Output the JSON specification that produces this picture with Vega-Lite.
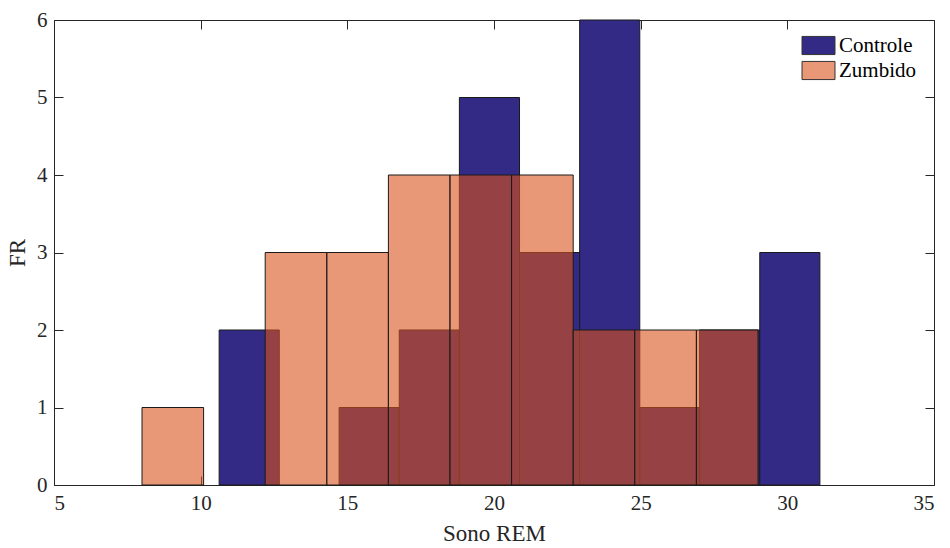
{
  "$schema": "https://vega.github.io/schema/vega-lite/v6.json",
  "width": 880,
  "height": 465,
  "autosize": {"type": "none"},
  "padding": {"left": 54, "top": 20, "right": 16, "bottom": 63},
  "background": "white",
  "config": {
    "view": {"stroke": "#262626", "strokeWidth": 1},
    "font": "Liberation Serif",
    "text": {"font": "Liberation Serif"},
    "legend": {"labelFont": "Liberation Serif", "titleFont": "Liberation Serif"},
    "axis": {
      "grid": false,
      "domain": false,
      "tickColor": "#262626",
      "tickWidth": 1,
      "labelColor": "#262626",
      "titleColor": "#262626",
      "labelFont": "Liberation Serif",
      "titleFont": "Liberation Serif",
      "labelFontSize": 21,
      "titleFontSize": 23,
      "titleFontWeight": "normal"
    }
  },
  "data": {
    "values": [
      {"group": "Controle", "start": 10.63, "end": 12.68, "count": 2},
      {"group": "Controle", "start": 14.72, "end": 16.77, "count": 1},
      {"group": "Controle", "start": 16.77, "end": 18.82, "count": 2},
      {"group": "Controle", "start": 18.82, "end": 20.87, "count": 5},
      {"group": "Controle", "start": 20.87, "end": 22.92, "count": 3},
      {"group": "Controle", "start": 22.92, "end": 24.97, "count": 6},
      {"group": "Controle", "start": 24.97, "end": 27.01, "count": 1},
      {"group": "Controle", "start": 27.01, "end": 29.06, "count": 2},
      {"group": "Controle", "start": 29.06, "end": 31.11, "count": 3},
      {"group": "Zumbido", "start": 8.0, "end": 10.1, "count": 1},
      {"group": "Zumbido", "start": 12.2, "end": 14.3, "count": 3},
      {"group": "Zumbido", "start": 14.3, "end": 16.4, "count": 3},
      {"group": "Zumbido", "start": 16.4, "end": 18.5, "count": 4},
      {"group": "Zumbido", "start": 18.5, "end": 20.6, "count": 4},
      {"group": "Zumbido", "start": 20.6, "end": 22.7, "count": 4},
      {"group": "Zumbido", "start": 22.7, "end": 24.8, "count": 2},
      {"group": "Zumbido", "start": 24.8, "end": 26.9, "count": 2},
      {"group": "Zumbido", "start": 26.9, "end": 29.0, "count": 2}
    ]
  },
  "resolve": {"axis": {"x": "independent", "y": "independent"}},
  "layer": [
    {
      "mark": {"type": "bar", "stroke": "#1a1a1a", "strokeWidth": 1},
      "encoding": {
        "x": {
          "field": "start", "type": "quantitative",
          "scale": {"domain": [5, 35], "nice": false, "zero": false},
          "axis": {"orient": "bottom", "values": [5, 10, 15, 20, 25, 30, 35], "tickSize": -9, "labelPadding": 16, "title": "Sono REM", "titlePadding": 9}
        },
        "x2": {"field": "end"},
        "y": {
          "field": "count", "type": "quantitative",
          "scale": {"domain": [0, 6], "nice": false},
          "axis": {"orient": "left", "values": [0, 1, 2, 3, 4, 5, 6], "tickSize": -9, "labelPadding": 16, "title": "FR", "titlePadding": 7}
        },
        "y2": {"datum": 0},
        "color": {
          "field": "group", "type": "nominal",
          "scale": {"domain": ["Controle", "Zumbido"], "range": ["#332a86", "#d9531a"]},
          "legend": {
            "title": null,
            "orient": "none",
            "legendX": 754,
            "legendY": 15,
            "labelFont": "Liberation Serif",
            "labelFontSize": 21,
            "labelColor": "#000000",
            "labelOffset": 10,
            "symbolType": "M-2,-1.1H2V1.1H-2Z",
            "symbolSize": 272,
            "symbolStrokeColor": "#333333",
            "symbolStrokeWidth": 1,
            "rowPadding": 2,
            "padding": 0,
            "encode": {
              "symbols": {
                "update": {
                  "fillOpacity": {"signal": "datum.value === 'Zumbido' ? 0.6 : 1"}
                }
              }
            }
          }
        },
        "fillOpacity": {
          "field": "group", "type": "nominal",
          "scale": {"domain": ["Controle", "Zumbido"], "range": [1, 0.6]},
          "legend": null
        }
      }
    },
    {
      "mark": {"type": "bar", "fillOpacity": 0, "strokeOpacity": 0},
      "encoding": {
        "x": {
          "field": "start", "type": "quantitative",
          "axis": {"orient": "top", "values": [5, 10, 15, 20, 25, 30, 35], "tickSize": -9, "labels": false, "title": null}
        },
        "x2": {"field": "end"},
        "y": {
          "field": "count", "type": "quantitative",
          "axis": {"orient": "right", "values": [0, 1, 2, 3, 4, 5, 6], "tickSize": -9, "labels": false, "title": null}
        },
        "y2": {"datum": 0}
      }
    }
  ]
}
